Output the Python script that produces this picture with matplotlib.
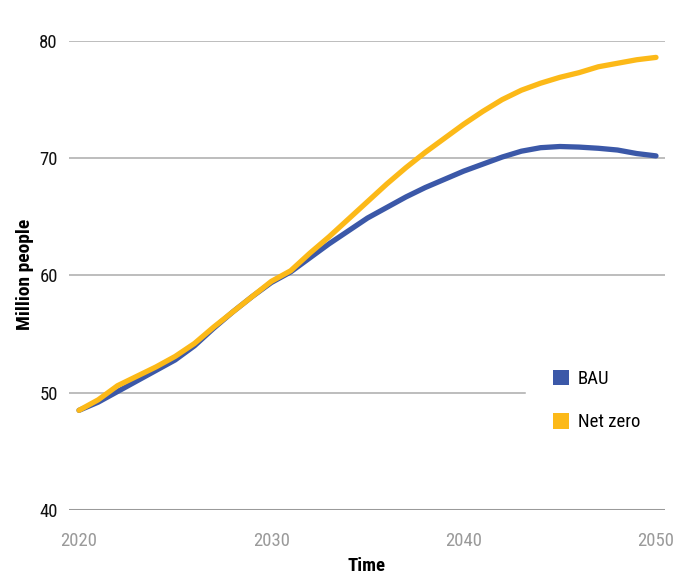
import numpy as np
import matplotlib.pyplot as plt
from matplotlib.patches import Patch

years = np.arange(2020, 2051)
bau = [48.5, 49.2, 50.1, 51.0, 51.9, 52.8, 54.0, 55.5, 56.9, 58.2,
       59.4, 60.3, 61.5, 62.7, 63.8, 64.9, 65.8, 66.7, 67.5, 68.2,
       68.9, 69.5, 70.1, 70.6, 70.9, 71.0, 70.95, 70.85, 70.7, 70.4,
       70.2]
net_zero = [48.5, 49.4, 50.6, 51.4, 52.2, 53.1, 54.2, 55.6, 56.9, 58.2,
            59.5, 60.4, 61.9, 63.3, 64.8, 66.3, 67.8, 69.2, 70.5, 71.7,
            72.9, 74.0, 75.0, 75.8, 76.4, 76.9, 77.3, 77.8, 78.1, 78.4,
            78.6]
y_ticks = [40, 50, 60, 70, 80]
x_ticks = [2020, 2030, 2040, 2050]

blue = '#3b58a8'
yellow = '#fcb918'

plt.rcParams['font.family'] = ['Roboto Condensed', 'Liberation Sans Narrow',
                               'Roboto', 'DejaVu Sans']

fig = plt.figure(figsize=(6.74, 5.74), dpi=100)
ax = fig.add_axes([0.1024, 0.1115, 0.8843, 0.8171])

# gridlines, the 50 one stops short of the legend
for v in y_ticks[1:]:
    xmax = 0.765 if v == 50 else 1.0
    ax.axhline(v, xmin=0, xmax=xmax, color='#ababab', lw=1.1, zorder=1)
ax.axhline(40, color='#9a9a9a', lw=2.2, zorder=1)

ax.plot(years, bau, color=blue, lw=3.8, solid_capstyle='round', zorder=3)
ax.plot(years, net_zero, color=yellow, lw=3.8, solid_capstyle='round', zorder=4)

ax.set_xlim(2019.48, 2050.47)
ax.set_ylim(40, 80)
for s in ax.spines.values():
    s.set_visible(False)

ax.set_yticks(y_ticks)
ax.set_yticklabels([str(v) for v in y_ticks], fontsize=13.5, color='#111111')
ax.set_xticks(x_ticks)
ax.set_xticklabels([str(v) for v in x_ticks], fontsize=13.5, color='#9a9a9a')
ax.tick_params(axis='both', length=0)
ax.tick_params(axis='y', pad=8)
ax.tick_params(axis='x', pad=16)

ax.set_ylabel('Million people', fontsize=14, fontweight='bold')
ax.yaxis.set_label_coords(-0.059, 0.503)
fig.text(366 / 674, 1 - 566 / 574, 'Time', fontsize=13.5, fontweight='bold',
         ha='center', va='center')

handles = [Patch(facecolor=blue, edgecolor='none', label='BAU'),
           Patch(facecolor=yellow, edgecolor='none', label='Net zero')]
fig.legend(handles=handles, loc='upper left',
           bbox_to_anchor=(545 / 674, 1 - 362 / 574), frameon=False,
           fontsize=13.5, handlelength=0.9, handleheight=0.9,
           handletextpad=0.45, labelspacing=1.35, borderaxespad=0)

fig.savefig('out.png', dpi=100)
